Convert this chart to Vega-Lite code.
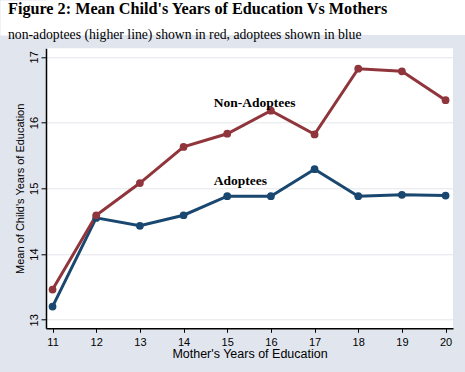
{
  "$schema": "https://vega.github.io/schema/vega-lite/v6.json",
  "background": "#e1e5ee",
  "padding": {"left": 0, "top": 0, "right": 0, "bottom": 14},
  "spacing": -7.7,
  "bounds": "full",
  "config": {
    "view": {"stroke": null},
    "axis": {
      "domainColor": "black",
      "domainWidth": 1.5,
      "tickColor": "black",
      "tickWidth": 1,
      "labelFont": "Liberation Sans",
      "labelFontSize": 11,
      "labelColor": "black",
      "titleFont": "Liberation Sans",
      "titleFontWeight": "normal",
      "titleColor": "black"
    }
  },
  "vconcat": [
    {
      "width": 419,
      "height": 35,
      "view": {"fill": "white", "stroke": null},
      "data": {"values": [{"t": "Figure 2: Mean Child's Years of Education Vs Mothers"}]},
      "mark": {
        "type": "text",
        "align": "left",
        "baseline": "alphabetic",
        "dx": -38,
        "font": "Liberation Serif",
        "fontSize": 16.2,
        "fontWeight": "bold",
        "color": "black"
      },
      "encoding": {
        "x": {
          "datum": 0,
          "type": "quantitative",
          "scale": {"domain": [0, 1]},
          "axis": null
        },
        "y": {
          "datum": 0.614,
          "type": "quantitative",
          "scale": {"domain": [0, 1]},
          "axis": {
            "domainWidth": 92,
            "domainColor": "white",
            "ticks": false,
            "labels": false,
            "grid": false,
            "title": null
          }
        },
        "text": {"field": "t"}
      }
    },
    {
      "width": 407,
      "height": 280,
      "view": {"fill": "white", "stroke": null},
      "title": {
        "text": "non-adoptees (higher line) shown in red, adoptees shown in blue",
        "anchor": "start",
        "frame": "bounds",
        "offset": 5,
        "dx": 8,
        "dy": 12.3,
        "baseline": "bottom",
        "font": "Liberation Serif",
        "fontSize": 13.7,
        "fontWeight": "normal",
        "color": "black"
      },
      "data": {
        "values": [
          {"group": "Adoptees", "educ": 11, "mean": 13.20},
          {"group": "Adoptees", "educ": 12, "mean": 14.55},
          {"group": "Adoptees", "educ": 13, "mean": 14.43},
          {"group": "Adoptees", "educ": 14, "mean": 14.59},
          {"group": "Adoptees", "educ": 15, "mean": 14.88},
          {"group": "Adoptees", "educ": 16, "mean": 14.88},
          {"group": "Adoptees", "educ": 17, "mean": 15.29},
          {"group": "Adoptees", "educ": 18, "mean": 14.88},
          {"group": "Adoptees", "educ": 19, "mean": 14.90},
          {"group": "Adoptees", "educ": 20, "mean": 14.89},
          {"group": "Non-Adoptees", "educ": 11, "mean": 13.46},
          {"group": "Non-Adoptees", "educ": 12, "mean": 14.59},
          {"group": "Non-Adoptees", "educ": 13, "mean": 15.08},
          {"group": "Non-Adoptees", "educ": 14, "mean": 15.63},
          {"group": "Non-Adoptees", "educ": 15, "mean": 15.83},
          {"group": "Non-Adoptees", "educ": 16, "mean": 16.18},
          {"group": "Non-Adoptees", "educ": 17, "mean": 15.82},
          {"group": "Non-Adoptees", "educ": 18, "mean": 16.82},
          {"group": "Non-Adoptees", "educ": 19, "mean": 16.78},
          {"group": "Non-Adoptees", "educ": 20, "mean": 16.34}
        ]
      },
      "encoding": {
        "x": {
          "field": "educ",
          "type": "quantitative",
          "scale": {"domain": [10.85, 20.17], "nice": false, "zero": false},
          "axis": {
            "values": [11, 12, 13, 14, 15, 16, 17, 18, 19, 20],
            "grid": false,
            "tickSize": 4,
            "labelPadding": 4,
            "labelFlush": false,
            "title": "Mother's Years of Education",
            "titleFontSize": 12.5,
            "titlePadding": 0
          }
        },
        "y": {
          "field": "mean",
          "type": "quantitative",
          "scale": {"domain": [12.87, 17.13], "nice": false, "zero": false},
          "axis": {
            "values": [13, 14, 15, 16, 17],
            "grid": true,
            "gridColor": "#e4e6ea",
            "gridWidth": 1,
            "tickSize": 5,
            "labelAngle": 270,
            "labelAlign": "center",
            "labelBaseline": "bottom",
            "labelPadding": 2,
            "labelFlush": false,
            "title": ["", "Mean of Child's Years of Education"],
            "titleLineHeight": 14,
            "titleFontSize": 11,
            "titlePadding": 3
          }
        },
        "color": {
          "field": "group",
          "type": "nominal",
          "scale": {"domain": ["Non-Adoptees", "Adoptees"], "range": ["#90353b", "#1a476f"]},
          "legend": null
        }
      },
      "layer": [
        {"mark": {"type": "line", "strokeWidth": 3}},
        {"mark": {"type": "point", "filled": true, "size": 60, "opacity": 1}},
        {
          "transform": [{"filter": "datum.group == 'Non-Adoptees' && datum.educ == 15"}],
          "mark": {"type": "text", "align": "left", "baseline": "middle", "font": "Liberation Serif", "fontSize": 13.5, "fontWeight": "bold", "color": "black"},
          "encoding": {
            "x": {"datum": 14.69},
            "y": {"datum": 16.30},
            "text": {"field": "group"},
            "color": {"value": "black"}
          }
        },
        {
          "transform": [{"filter": "datum.group == 'Adoptees' && datum.educ == 15"}],
          "mark": {"type": "text", "align": "left", "baseline": "middle", "font": "Liberation Serif", "fontSize": 13.5, "fontWeight": "bold", "color": "black"},
          "encoding": {
            "x": {"datum": 14.69},
            "y": {"datum": 15.11},
            "text": {"field": "group"},
            "color": {"value": "black"}
          }
        }
      ]
    }
  ]
}
